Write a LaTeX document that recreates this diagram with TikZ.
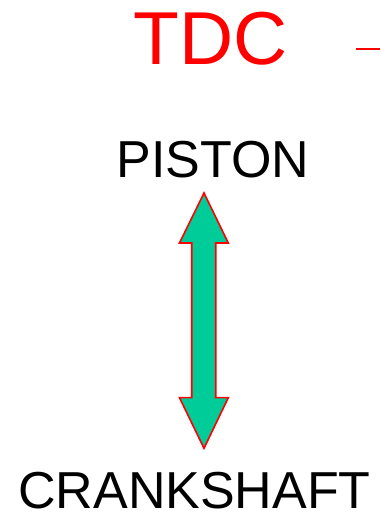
\documentclass[tikz,border=0pt]{standalone}
\usepackage{fontspec}
\setmainfont{Liberation Sans}
\definecolor{arrowgreen}{RGB}{0,204,153}
\definecolor{tdcred}{RGB}{255,0,0}
\tikzset{
  lbl/.style={anchor=base, inner sep=0pt, outer sep=0pt},
  blockarrow/.style={fill=arrowgreen, draw=tdcred, line width=1.6pt, line join=miter},
}
\begin{document}
\begin{tikzpicture}[x=1pt,y=1pt]
\useasboundingbox (0,0) rectangle (380,516);
\node[lbl, text=tdcred, font=\fontsize{75}{80}\selectfont] (tdc) at (210.5,451) {TDC};
\node[lbl, font=\fontsize{52}{56}\selectfont] (piston) at (213,338) {PISTON};
\node[lbl, font=\fontsize{52}{56}\selectfont] (crank) at (194.5,7) {CRANKSHAFT};
\coordinate (dashL) at (356,467);
\coordinate (dashR) at (380,467);
\draw[tdcred, line width=2pt] (dashL) -- (dashR);
% double-headed block arrow
\coordinate (top) at (204,323);
\coordinate (bot) at (204,67.7);
\draw[blockarrow]
  (top) -- (228.3,273) -- (215.7,273) -- (215.7,118.3) -- (228.3,118.3)
  -- (bot) -- (179.5,118.3) -- (191.7,118.3) -- (191.7,273) -- (179.5,273) -- cycle;
\end{tikzpicture}
\end{document}
